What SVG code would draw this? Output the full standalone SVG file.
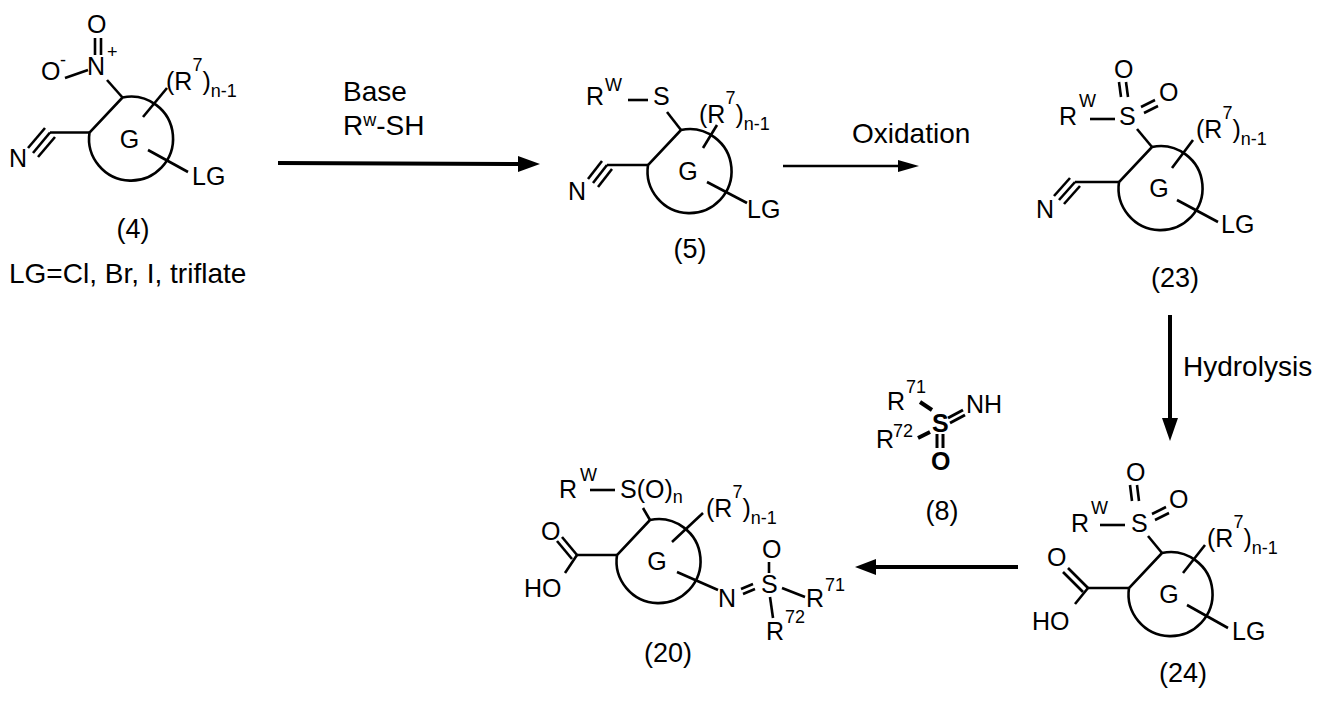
<svg xmlns="http://www.w3.org/2000/svg" width="1325" height="706" viewBox="0 0 1325 706">
<defs>
<style>
text{font-family:"Liberation Sans",Arial,sans-serif;font-size:25px;fill:#000}
.s{font-size:18px}
.c{font-size:27px}
.r{font-size:28px}
.b{font-weight:bold}
line,path,circle{stroke:#000;stroke-width:2.6;fill:none;stroke-linecap:butt}
.ar{stroke-width:4}
.hd{fill:#000;stroke:none}
</style>
<g id="ring"><path d="M-9,-41 A42,42 0 1 1 -42,-6 Z"/><text x="-2" y="9" text-anchor="middle">G</text></g>
</defs>
<rect width="1325" height="706" fill="#fff"/>

<g id="c4">
<use href="#ring" transform="translate(131.5,138.5)"/>
<text x="87" y="33">O</text>
<line x1="95" y1="38" x2="95" y2="55"/><line x1="101" y1="38" x2="101" y2="55"/>
<text x="87" y="75">N</text><text class="s" x="107" y="58">+</text>
<text x="41" y="80">O</text><text class="s" x="60" y="66">-</text>
<line x1="65" y1="78" x2="88" y2="70"/>
<line x1="107" y1="80" x2="122.5" y2="97.5"/>
<line x1="89.5" y1="132.5" x2="50" y2="132.5"/>
<line x1="50" y1="132.5" x2="33" y2="153"/><line x1="45" y1="128" x2="28" y2="148"/><line x1="55" y1="137" x2="38" y2="157"/>
<text x="9" y="167">N</text>
<line x1="143" y1="117" x2="167" y2="88"/>
<text x="166" y="90">(R<tspan class="s" dy="-19">7</tspan><tspan dy="19">)</tspan><tspan class="s" dy="7">n-1</tspan></text>
<line x1="148" y1="150" x2="188" y2="172"/>
<text x="192" y="185">LG</text>
<text class="c" x="133" y="238" text-anchor="middle">(4)</text>
<text class="r" x="9" y="283">LG=Cl, Br, I, triflate</text>
</g>

<g id="c5">
<use href="#ring" transform="translate(690,171)"/>
<text x="586" y="105">R</text><text class="s" x="605" y="91">W</text>
<line x1="628" y1="100" x2="648" y2="100"/>
<text x="653" y="105">S</text>
<line x1="667" y1="112" x2="681" y2="130"/>
<line x1="648" y1="165" x2="607" y2="165"/>
<line x1="607" y1="165" x2="593" y2="183"/><line x1="602" y1="161" x2="588" y2="179"/><line x1="612" y1="169" x2="598" y2="187"/>
<text x="568" y="200">N</text>
<line x1="703" y1="148" x2="717" y2="125"/>
<text x="699" y="123">(R<tspan class="s" dy="-19">7</tspan><tspan dy="19">)</tspan><tspan class="s" dy="7">n-1</tspan></text>
<line x1="707" y1="182" x2="747" y2="203"/>
<text x="747" y="218">LG</text>
<text class="c" x="690" y="258" text-anchor="middle">(5)</text>
</g>

<g id="c23">
<use href="#ring" transform="translate(1161,188)"/>
<text x="1059" y="125">R</text><text class="s" x="1079" y="107">W</text>
<line x1="1090" y1="119" x2="1115" y2="119"/>
<text x="1119" y="125">S</text>
<text x="1114" y="78">O</text>
<line x1="1119" y1="82" x2="1121" y2="97"/><line x1="1126" y1="82" x2="1128" y2="97"/>
<text x="1159" y="101">O</text>
<line x1="1141" y1="107" x2="1155" y2="100"/><line x1="1144" y1="113" x2="1158" y2="106"/>
<line x1="1137" y1="129" x2="1152" y2="147"/>
<line x1="1119" y1="182" x2="1075" y2="182"/>
<line x1="1075" y1="182" x2="1059" y2="200"/><line x1="1070" y1="178" x2="1054" y2="196"/><line x1="1080" y1="186" x2="1064" y2="204"/>
<text x="1036" y="218">N</text>
<line x1="1172" y1="168" x2="1193" y2="140"/>
<text x="1196" y="138">(R<tspan class="s" dy="-19">7</tspan><tspan dy="19">)</tspan><tspan class="s" dy="7">n-1</tspan></text>
<line x1="1177" y1="200" x2="1218" y2="222"/>
<text x="1221" y="233">LG</text>
<text class="c" x="1175" y="287" text-anchor="middle">(23)</text>
</g>

<g id="c24">
<use href="#ring" transform="translate(1171,594)"/>
<text x="1071" y="532">R</text><text class="s" x="1091" y="514">W</text>
<line x1="1100" y1="525" x2="1125" y2="525"/>
<text x="1131" y="532">S</text>
<text x="1126" y="481">O</text>
<line x1="1130" y1="485" x2="1132" y2="501"/><line x1="1137" y1="485" x2="1139" y2="501"/>
<text x="1169" y="508">O</text>
<line x1="1152" y1="514" x2="1166" y2="507"/><line x1="1155" y1="520" x2="1169" y2="513"/>
<line x1="1148" y1="536" x2="1162" y2="553"/>
<line x1="1129" y1="588" x2="1088" y2="588"/>
<line x1="1088" y1="588" x2="1068" y2="568"/><line x1="1083" y1="592" x2="1063" y2="572"/>
<line x1="1088" y1="588" x2="1075" y2="604"/>
<text x="1047" y="566">O</text>
<text x="1032" y="630">HO</text>
<line x1="1183" y1="573" x2="1205" y2="545"/>
<text x="1207" y="547">(R<tspan class="s" dy="-19">7</tspan><tspan dy="19">)</tspan><tspan class="s" dy="7">n-1</tspan></text>
<line x1="1187" y1="605" x2="1228" y2="628"/>
<text x="1232" y="640">LG</text>
<text class="c" x="1183" y="682" text-anchor="middle">(24)</text>
</g>

<g id="c20">
<use href="#ring" transform="translate(659,561)"/>
<text x="559" y="498">R</text><text class="s" x="580" y="481">W</text>
<line x1="590" y1="490" x2="615" y2="490"/>
<text x="620" y="498">S(O)<tspan class="s" dy="5">n</tspan></text>
<line x1="643" y1="508" x2="650" y2="520"/>
<line x1="672" y1="542" x2="703" y2="513"/>
<text x="706" y="517">(R<tspan class="s" dy="-19">7</tspan><tspan dy="19">)</tspan><tspan class="s" dy="7">n-1</tspan></text>
<line x1="617" y1="555" x2="577" y2="555"/>
<line x1="577" y1="555" x2="562" y2="537"/><line x1="572" y1="559" x2="557" y2="541"/>
<line x1="577" y1="555" x2="565" y2="573"/>
<text x="541" y="540">O</text>
<text x="524" y="597">HO</text>
<line x1="677" y1="572" x2="718" y2="590"/>
<text x="718" y="607">N</text>
<line x1="741" y1="589" x2="753" y2="584"/><line x1="743" y1="594" x2="755" y2="589"/>
<text x="761" y="593">S</text>
<text x="762" y="558">O</text>
<line x1="769" y1="562" x2="769" y2="573"/>
<line x1="782" y1="588" x2="805" y2="597"/>
<text x="806" y="607">R</text><text class="s" x="825" y="591">71</text>
<line x1="770" y1="597" x2="773" y2="618"/>
<text x="766" y="640">R</text><text class="s" x="785" y="623">72</text>
<text class="c" x="668" y="662" text-anchor="middle">(20)</text>
</g>

<g id="c8">
<text x="887" y="410">R</text><text class="s" x="906" y="393">71</text>
<line x1="920" y1="402" x2="932" y2="410" style="stroke-width:4"/>
<text class="b" x="932" y="432">S</text>
<line x1="948" y1="418" x2="963" y2="410" style="stroke-width:3"/><line x1="950" y1="423" x2="965" y2="415" style="stroke-width:3"/>
<text x="966" y="413">NH</text>
<text x="876" y="448">R</text><text class="s" x="893" y="437">72</text>
<line x1="918" y1="438" x2="930" y2="432" style="stroke-width:4"/>
<line x1="937" y1="434" x2="937" y2="448" style="stroke-width:3"/><line x1="943" y1="434" x2="943" y2="448" style="stroke-width:3"/>
<text class="b" x="931" y="470">O</text>
<text class="c" x="942" y="520" text-anchor="middle">(8)</text>
</g>

<g id="connectors">
<line class="ar" x1="278" y1="163" x2="522" y2="164"/>
<polygon class="hd" points="518,156 540,164 518,172"/>
<text class="r" x="343" y="101">Base</text>
<text class="r" x="343" y="135">R<tspan class="s" dy="-9">w</tspan><tspan dy="9">-SH</tspan></text>
<line x1="783" y1="166" x2="902" y2="166"/>
<polygon class="hd" points="898,160 919,166 898,172"/>
<text class="r" x="852" y="143">Oxidation</text>
<line class="ar" x1="1170" y1="315" x2="1170" y2="422"/>
<polygon class="hd" points="1162,418 1170,441 1178,418"/>
<text class="r" x="1183" y="376">Hydrolysis</text>
<line class="ar" x1="1018" y1="567" x2="872" y2="567"/>
<polygon class="hd" points="876,559 855,567 876,575"/>
</g>
</svg>
